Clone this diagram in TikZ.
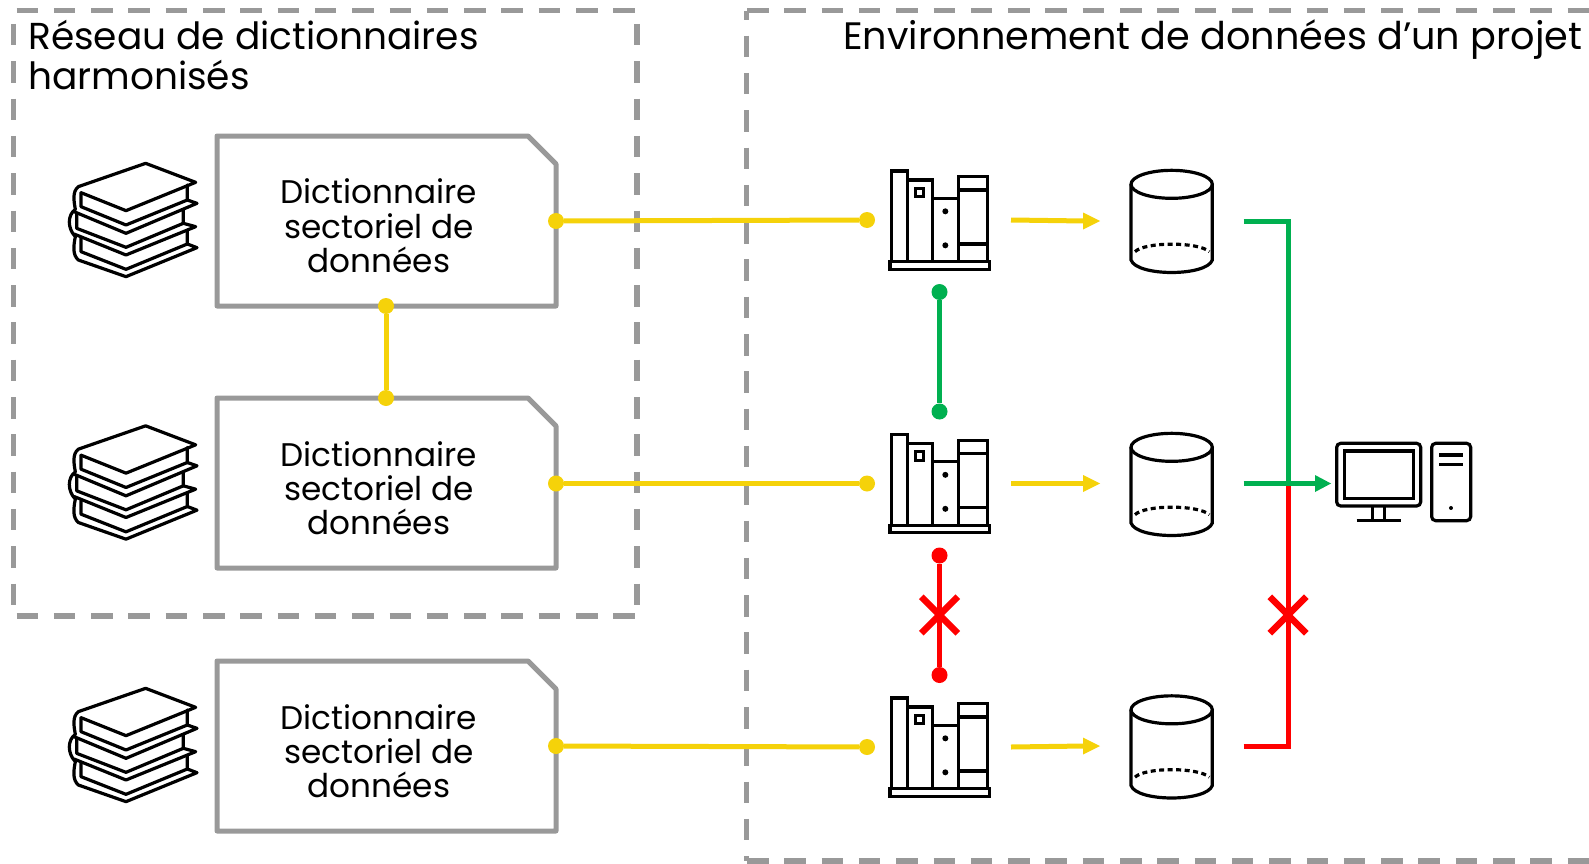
\documentclass[tikz,border=0pt]{standalone}
\usepackage{fontspec}
\setmainfont{Poppins}
\usetikzlibrary{shapes.misc}
\definecolor{linkyellow}{HTML}{F5D20A}
\definecolor{linkgreen}{HTML}{00B050}
\definecolor{linkred}{HTML}{FF0000}
\definecolor{framegray}{HTML}{999999}
\tikzset{
  zone/.style={draw=framegray, line width=5.3pt, dash pattern=on 21.5pt off 15.8pt},
  title/.style={anchor=base west, inner sep=0pt, font=\fontsize{37.5}{37.5}\selectfont},
  titlewide/.style={anchor=base west, inner sep=0pt, font=\fontsize{38.2}{38.2}\selectfont},
  doclabel/.style={align=center, inner sep=0pt, font=\fontsize{32.7}{34.3}\selectfont},
  dotyellow/.style={circle, fill=linkyellow, inner sep=0pt, minimum size=16pt},
  dotgreen/.style={circle, fill=linkgreen, inner sep=0pt, minimum size=16pt},
  dotred/.style={circle, fill=linkred, inner sep=0pt, minimum size=16pt},
  linky/.style={linkyellow, line width=5pt},
  linkg/.style={linkgreen, line width=5pt},
  linkr/.style={linkred, line width=5pt},
  stopmark/.style={cross out, draw=linkred, line width=6.5pt, inner sep=0pt, minimum size=30pt},
  pics/docbox/.style={code={
    \draw[framegray, line width=5pt, line join=round] (0,0) -- (311,0) -- (339,28) -- (339,170) -- (0,170) -- cycle;
  }},
  pics/bookstack/.style={code={
    \begin{scope}[x=0.3333pt, y=-0.3333pt, line width=3.2pt, line join=round, line cap=round]
      \draw (93,158) -- (228,212) -- (437,127) -- (287,70) -- (85,140)
        .. controls (66,155) and (72,185) .. (76,208)
        .. controls (52,225) and (52,265) .. (76,290)
        .. controls (70,320) and (68,345) .. (85,360) -- (228,410) -- (441,323) -- (412,312);
      \draw (93,158) -- (93,200) -- (228,255) -- (412,180);
      \draw (412,135) -- (412,180) -- (441,190) -- (228,280) -- (72,215);
      \draw (80,222) -- (80,265) -- (228,322) -- (400,250);
      \draw (400,208) -- (400,250) -- (437,260) -- (228,345) -- (72,282);
      \draw (93,295) -- (93,335) -- (228,388) -- (412,312) -- (412,270);
    \end{scope}
  }},
  pics/shelf/.style={code={
    \begin{scope}[x=0.3333pt, y=-0.3333pt, line width=3.2pt]
      \draw (60,335) rectangle (358,358);
      \draw (65,335) -- (65,63) -- (112,63) -- (112,335);
      \draw (112,90) -- (187,90) -- (187,335);
      \draw (136,115) rectangle (160,140);
      \draw (187,145) -- (265,145) -- (265,335);
      \draw (265,335) -- (265,80) -- (353,80) -- (353,335);
      \draw (265,120) -- (353,120);
      \draw (265,282) -- (353,282);
      \fill (226,184) circle (9);
      \fill (226,286) circle (9);
    \end{scope}
  }},
  pics/drum/.style={code={
    \begin{scope}[x=0.3333pt, y=-0.3333pt, line width=3.2pt]
      \draw (215,103) ellipse (122 and 42);
      \draw (93,103) -- (93,330) .. controls (110,380) and (320,380) .. (337,330) -- (337,103);
      \draw[dash pattern=on 5pt off 3.5pt] (105,305) .. controls (135,275) and (295,275) .. (328,305);
    \end{scope}
  }},
  pics/computer/.style={code={
    \begin{scope}[x=0.3333pt, y=-0.3333pt, line width=3.2pt]
      \draw[rounded corners=4pt] (320,70) rectangle (572,258);
      \draw (343,93) rectangle (550,235);
      \draw (427,258) -- (427,300);
      \draw (463,258) -- (463,300);
      \draw (380,301) -- (512,301);
      \draw[rounded corners=4pt] (605,70) rectangle (722,302);
      \draw (628,105) -- (698,105);
      \draw (628,133) -- (698,133);
      \fill (663,264) circle (6);
    \end{scope}
  }}
}
\begin{document}
\begin{tikzpicture}[x=1pt, y=-1pt]
  \useasboundingbox (0,0) rectangle (1589,864);

  % Dashed zones
  \draw[zone, dash phase=24.3pt] (13.8,11) -- (13.8,616);
  \draw[zone, dash phase=24.3pt] (637,11) -- (637,616);
  \draw[zone, dash phase=34.6pt] (13.8,10.7) -- (637,10.7);
  \draw[zone, dash phase=34.6pt] (13.8,616) -- (637,616);
  \draw[zone, dash phase=12.7pt] (746.8,11) -- (746.8,861);
  \draw[zone] (747,10.7) -- (1589,10.7);
  \draw[zone] (747,861) -- (1589,861);
  \node[title] (titleleft) at (28,50) {Réseau de dictionnaires};
  \node[title] (titleleftb) at (28,90) {harmonisés};
  \node[titlewide] (titleright) at (843,50) {Environnement de données d’un projet};

  % Dictionaries
  \pic at (217,136) {docbox};
  \pic at (217,398) {docbox};
  \pic at (217,661) {docbox};
  \node[doclabel] (doca) at (379,226) {Dictionnaire\\sectoriel de\\données};
  \node[doclabel] (docb) at (379,488) {Dictionnaire\\sectoriel de\\données};
  \node[doclabel] (docc) at (379,751) {Dictionnaire\\sectoriel de\\données};

  % Book stacks
  \pic at (50,140) {bookstack};
  \pic at (50,402.5) {bookstack};
  \pic at (50,665) {bookstack};

  % Shelves
  \pic at (870,150) {shelf};
  \pic at (870,413.5) {shelf};
  \pic at (870,677) {shelf};

  % Databases
  \pic at (1100,150) {drum};
  \pic at (1100,413) {drum};
  \pic at (1100,675.5) {drum};

  % Computer
  \pic at (1230,420) {computer};

  % Yellow links
  \node[dotyellow] (ya) at (556,221) {};
  \node[dotyellow] (yb) at (867,220) {};
  \node[dotyellow] (yc) at (556,483.5) {};
  \node[dotyellow] (yd) at (867,483.5) {};
  \node[dotyellow] (ye) at (556,746) {};
  \node[dotyellow] (yf) at (867,747) {};
  \node[dotyellow] (yg) at (386,306) {};
  \node[dotyellow] (yh) at (386,398) {};
  \draw[linky] (ya) -- (yb);
  \draw[linky] (yc) -- (yd);
  \draw[linky] (ye) -- (yf);
  \draw[linky] (yg) -- (yh);

  % Shelf to database arrows
  \coordinate (sa) at (1011,220);
  \coordinate (da) at (1100,221);
  \coordinate (sb) at (1011,483.5);
  \coordinate (db) at (1100,483.5);
  \coordinate (sc) at (1011,747);
  \coordinate (dc) at (1100,746);
  \fill[linkyellow] (da) -- (1083,212.5) -- (1083,229.5) -- cycle;
  \fill[linkyellow] (db) -- (1083,475) -- (1083,492) -- cycle;
  \fill[linkyellow] (dc) -- (1083,737.5) -- (1083,754.5) -- cycle;
  \draw[linky] (sa) -- (1085,221);
  \draw[linky] (sb) -- (1085,483.5);
  \draw[linky] (sc) -- (1085,746);

  % Shelf to shelf
  \node[dotgreen] (ga) at (939.5,292) {};
  \node[dotgreen] (gb) at (939.5,411.5) {};
  \draw[linkg] (ga) -- (gb);
  \node[dotred] (ra) at (939.5,555.5) {};
  \node[dotred] (rb) at (939.5,675) {};
  \draw[linkr] (ra) -- (rb);
  \node[stopmark] (stopa) at (939.5,615) {};

  % Database to computer
  \coordinate (ca) at (1243.5,221);
  \coordinate (cb) at (1288,221);
  \coordinate (cc) at (1288,483.5);
  \coordinate (cd) at (1243.5,746);
  \coordinate (ce) at (1288,746);
  \coordinate (cf) at (1243.5,483.5);
  \coordinate (cg) at (1331,483.5);
  \draw[linkr, line join=miter] (cd) -- (ce) -- (cc);
  \draw[linkg, line join=miter] (ca) -- (cb) -- (cc);
  \draw[linkg] (cf) -- (1316,483.5);
  \fill[linkgreen] (cg) -- (1315,475) -- (1315,492) -- cycle;
  \node[stopmark] (stopb) at (1288,615) {};
\end{tikzpicture}
\end{document}
